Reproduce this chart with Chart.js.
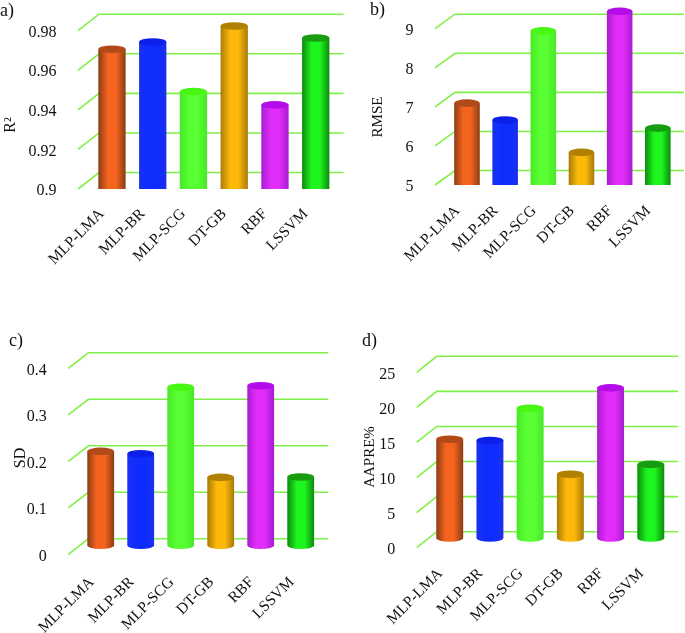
<!DOCTYPE html>
<html>
<head>
<meta charset="utf-8">
<style>
  html, body { margin: 0; padding: 0; background: #fff; }
  canvas { position: absolute; }
</style>
<script src="https://cdn.jsdelivr.net/npm/chart.js@4"></script>
</head>
<body>
<canvas id="panelA" style="left:0;top:0" width="345" height="300"></canvas>
<canvas id="panelB" style="left:345px;top:0" width="340" height="300"></canvas>
<canvas id="panelC" style="left:0;top:320px" width="345" height="313"></canvas>
<canvas id="panelD" style="left:345px;top:320px" width="340" height="313"></canvas>
<script>
const categories = ['MLP-LMA', 'MLP-BR', 'MLP-SCG', 'DT-GB', 'RBF', 'LSSVM'];

const r2Values    = [0.9663, 0.970, 0.9449, 0.9781, 0.9382, 0.972];
const rmseValues  = [6.89, 6.46, 8.74, 5.63, 9.24, 6.25];
const sdValues    = [0.202, 0.197, 0.340, 0.146, 0.343, 0.147];
const aapreValues = [14.07, 13.9, 18.5, 9.08, 21.4, 10.5];

const r2Ticks    = [0.9, 0.92, 0.94, 0.96, 0.98];
const rmseTicks  = [5, 6, 7, 8, 9];
const sdTicks    = [0, 0.1, 0.2, 0.3, 0.4];
const aapreTicks = [0, 5, 10, 15, 20, 25];

// edge of the cylinder, middle of the cylinder, top cap
const edgeColors   = ['#8a3c14', '#1a30ee', '#48e828', '#a87a08', '#a61cd0', '#0c8a0c'];
const centerColors = ['#f5641f', '#0f2cff', '#58ff32', '#fcb90a', '#e22cfa', '#1ef41e'];
const capColors    = ['#b04a18', '#0c20ea', '#48f814', '#b08000', '#b40ce8', '#169c0e'];

const GRID_COLOR = '#80f048';
const SERIF = '"Liberation Serif", "Times New Roman", serif';

// 3D look: grid lines go back to the wall, bars stand half way in the floor
const cylinderPlugin = {
  id: 'cylinders',
  beforeDatasetsDraw(chart, args, opts) {
    const { ctx, chartArea } = chart;
    const y = chart.scales.y;
    ctx.save();
    ctx.strokeStyle = GRID_COLOR;
    ctx.lineWidth = 1.6;
    y.ticks.forEach((t, i) => {
      const py = y.getPixelForTick(i);
      ctx.beginPath();
      ctx.moveTo(chartArea.left, py);
      ctx.lineTo(chartArea.left + opts.depthX, py - opts.depthY);
      ctx.lineTo(chartArea.right + opts.depthX, py - opts.depthY);
      ctx.stroke();
    });
    ctx.restore();
  },
  afterDatasetsDraw(chart, args, opts) {
    const { ctx, chartArea } = chart;
    // axis that does not start at 0 cuts the bars flat at the front of the floor
    const roundBase = chart.scales.y.min === 0;
    chart.getDatasetMeta(0).data.forEach((bar, i) => {
      const cx = bar.x + opts.barX;
      const rx = bar.width / 2;
      const ry = 3.8;
      const top = bar.y - opts.barY;
      const bottom = roundBase ? bar.base - opts.barY : chartArea.bottom;
      const grad = ctx.createLinearGradient(cx - rx, 0, cx + rx, 0);
      grad.addColorStop(0, edgeColors[i]);
      grad.addColorStop(0.35, centerColors[i]);
      grad.addColorStop(0.65, centerColors[i]);
      grad.addColorStop(1, edgeColors[i]);
      ctx.save();
      ctx.fillStyle = grad;
      ctx.beginPath();
      ctx.moveTo(cx - rx, top);
      if (roundBase) {
        ctx.lineTo(cx - rx, bottom);
        ctx.ellipse(cx, bottom, rx, ry, 0, Math.PI, 0, true);
      } else {
        ctx.lineTo(cx - rx, bottom);
        ctx.lineTo(cx + rx, bottom);
      }
      ctx.lineTo(cx + rx, top);
      ctx.closePath();
      ctx.fill();
      ctx.fillStyle = capColors[i];
      ctx.beginPath();
      ctx.ellipse(cx, top, rx, ry, 0, 0, Math.PI * 2);
      ctx.fill();
      ctx.restore();
    });
  },
  afterDraw(chart, args, opts) {
    const { ctx } = chart;
    ctx.save();
    ctx.fillStyle = '#111';
    ctx.textBaseline = 'middle';
    ctx.textAlign = 'left';
    ctx.font = '18px ' + SERIF;
    ctx.fillText(opts.letter, opts.letterX, opts.letterY);
    ctx.translate(opts.titleX, opts.titleY);
    ctx.rotate(-Math.PI / 2);
    ctx.textAlign = 'center';
    ctx.font = opts.titleSize + 'px ' + SERIF;
    ctx.fillText(opts.title, 0, 0);
    ctx.restore();
  },
};

function makePanel(id, values, ticks, p) {
  const canvas = document.getElementById(id);
  return new Chart(canvas, {
    type: 'bar',
    data: {
      labels: categories,
      datasets: [{
        data: values,
        backgroundColor: 'rgba(0,0,0,0)',
        barPercentage: 0.67,
        categoryPercentage: 1,
      }],
    },
    plugins: [cylinderPlugin],
    options: {
      responsive: false,
      animation: false,
      layout: { padding: { top: p.top, right: canvas.width - p.right, left: 0, bottom: 0 } },
      plugins: {
        legend: { display: false },
        tooltip: { enabled: false },
        cylinders: p,
      },
      scales: {
        x: {
          grid: { display: false },
          border: { display: false },
          afterFit: s => { s.height = canvas.height - p.base; },
          ticks: {
            color: '#111',
            font: { family: SERIF, size: 15.5 },
            minRotation: 45,
            maxRotation: 45,
            padding: p.labelPad,
            labelOffset: 3.5,
          },
        },
        y: {
          min: ticks[0],
          max: ticks[ticks.length - 1],
          grid: { display: false },
          border: { display: false },
          afterFit: s => { s.width = p.left; },
          afterBuildTicks: s => { s.ticks = ticks.map(value => ({ value })); },
          ticks: {
            color: '#111',
            font: { family: SERIF, size: 16 },
            padding: 13.5,
            labelOffset: 2,
            callback: v => String(v),
          },
        },
      },
    },
  });
}

makePanel('panelA', r2Values, r2Ticks, {
  left: 78, top: 30.7, right: 322.5, base: 189,
  depthX: 21, depthY: 16.5, barX: 13.6, barY: 8.5,
  labelPad: 8,
  letter: 'a)', letterX: 0, letterY: 11,
  title: 'R\u00b2', titleSize: 16, titleX: 11, titleY: 125,
});
makePanel('panelB', rmseValues, rmseTicks, {
  left: 90, top: 28.7, right: 319, base: 185,
  depthX: 20, depthY: 14.5, barX: 12.9, barY: 8,
  labelPad: 9,
  letter: 'b)', letterX: 25, letterY: 10,
  title: 'RMSE', titleSize: 15, titleX: 33, titleY: 117,
});
makePanel('panelC', sdValues, sdTicks, {
  left: 68.3, top: 48.3, right: 308.3, base: 234.3,
  depthX: 20, depthY: 15.5, barX: 12.4, barY: 9,
  labelPad: 11,
  letter: 'c)', letterX: 9, letterY: 21,
  title: 'SD', titleSize: 16, titleX: 21, titleY: 138,
});
makePanel('panelD', aapreValues, aapreTicks, {
  left: 71.7, top: 52.3, right: 313, base: 227.7,
  depthX: 20, depthY: 16, barX: 12.9, barY: 9.7,
  labelPad: 9,
  letter: 'd)', letterX: 17, letterY: 21,
  title: 'AAPRE%', titleSize: 15, titleX: 25, titleY: 137,
});
</script>
</body>
</html>
